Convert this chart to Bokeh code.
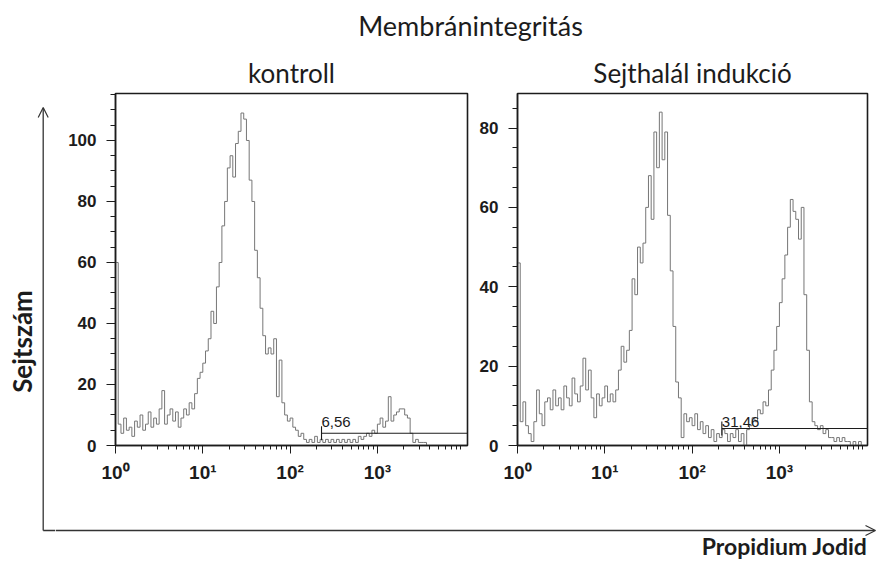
import math

from bokeh.core.properties import value
from bokeh.embed import file_html
from bokeh.layouts import column, row
from bokeh.models import Arrow, FixedTicker, OpenHead, Range1d, SingleIntervalTicker
from bokeh.plotting import figure
from bokeh.resources import INLINE

# ---------------------------------------------------------------------------
# Data: propidium iodide fluorescence histograms, 128 log channels over 4 decades
# ---------------------------------------------------------------------------
CHANNELS_PER_DECADE = 32

kontroll_counts = [
    60, 7, 4, 9, 5, 6, 3, 8, 6, 10, 5, 7, 11, 6, 9, 7,
    12, 18, 7, 10, 12, 8, 11, 6, 9, 12, 10, 14, 12, 17, 22, 24,
    27, 31, 35, 44, 40, 52, 60, 72, 80, 91, 95, 88, 99, 103, 109, 107,
    100, 87, 80, 64, 55, 45, 36, 30, 32, 30, 35, 16, 28, 14, 10, 8,
    9, 6, 5, 3, 4, 2, 1, 2, 1, 3, 1, 2, 1, 2, 1, 2,
    1, 2, 1, 2, 1, 2, 1, 2, 1, 3, 2, 3, 4, 3, 5, 4,
    7, 9, 6, 8, 16, 8, 10, 11, 12, 12, 10, 9, 4, 1, 2, 1,
    1, 1, 0, 0, 0, 0, 0, 0, 0, 0, 0, 0, 0, 0, 0, 0,
]

indukcio_counts = [
    46, 6, 11, 5, 3, 1, 6, 14, 8, 5, 11, 12, 9, 14, 10, 12,
    9, 15, 12, 10, 17, 13, 11, 15, 22, 14, 19, 12, 7, 13, 10, 12,
    15, 11, 13, 11, 14, 19, 25, 21, 24, 29, 42, 38, 50, 46, 51, 60,
    68, 57, 79, 70, 84, 72, 79, 58, 44, 30, 16, 12, 2, 8, 6, 7,
    5, 8, 4, 6, 3, 5, 2, 4, 1, 3, 2, 4, 3, 1, 3, 2,
    4, 1, 3, 0, 4, 5, 7, 6, 9, 8, 11, 10, 14, 19, 24, 30,
    36, 42, 48, 55, 62, 59, 57, 52, 60, 38, 24, 11, 6, 5, 4, 5,
    3, 4, 2, 2, 1, 2, 1, 2, 1, 1, 0, 1, 0, 1, 0, 0,
]

panel_titles = ["kontroll", "Sejthalál indukció"]
gate_starts = [229, 219]          # lower bound of the PI-positive marker
gate_levels = [4.0, 4.3]          # height the marker is drawn at
gate_percents = ["6,56", "31,46"]  # share of cells inside the marker

decade_ticks = [1, 10, 100, 1000]
decade_labels = ["10⁰", "10¹", "10²", "10³"]
minor_decade_ticks = [m * d for d in decade_ticks for m in range(2, 10)]

main_title = "Membránintegritás"
y_axis_title = "Sejtszám"
x_axis_title = "Propidium Jodid"

# ---------------------------------------------------------------------------
# Styling
# ---------------------------------------------------------------------------
LABEL_FONT = "Lato"
TICK_FONT = "Liberation Sans"
INK = "#1c1c1c"
ARROW_INK = "#333333"
HIST_COLOR = "#767676"
SIDE_W = 55
ROW_TOP = 50
ROW_HEIGHT = 440


def strip(x0, y0, width, height):
    """A blank figure whose data units equal page pixels (y grows downward)."""
    p = figure(
        width=width, height=height,
        x_range=Range1d(x0, x0 + width), y_range=Range1d(y0 + height, y0),
        x_axis_type=None, y_axis_type=None,
        output_backend="svg", toolbar_location=None, min_border=0,
    )
    p.outline_line_color = None
    p.background_fill_color = "white"
    p.border_fill_color = "white"
    return p


def panel(idx, counts, width, x_max, y_max, border_left, border_right, label_y):
    p = figure(
        width=width, height=ROW_HEIGHT,
        x_axis_type="log",
        x_range=Range1d(1, x_max), y_range=Range1d(0, y_max),
        output_backend="svg", toolbar_location=None,
        min_border_left=border_left, min_border_right=border_right,
        min_border_top=43, min_border_bottom=45,
        title=panel_titles[idx],
    )
    p.title.align = "center"
    p.title.text_font = LABEL_FONT
    p.title.text_font_size = "26px"
    p.title.text_font_style = "normal"
    p.title.text_color = INK
    p.title.standoff = 9

    p.grid.visible = False
    p.outline_line_color = INK
    p.outline_line_width = 1.6
    p.background_fill_color = "white"
    p.border_fill_color = "white"

    # x axis: decades with 2..9 minor marks
    xa = p.xaxis[0]
    xa.ticker = FixedTicker(ticks=decade_ticks, minor_ticks=minor_decade_ticks)
    xa.major_label_overrides = dict(zip(decade_ticks, decade_labels))
    xa.major_tick_out = 8
    xa.major_tick_in = 0
    xa.minor_tick_out = 4
    xa.minor_tick_in = 0
    xa.major_label_standoff = 8
    xa.major_label_text_font = TICK_FONT
    xa.major_label_text_font_style = "bold"
    xa.major_label_text_font_size = "19px"
    xa.major_label_text_color = INK

    # y axis: counts every 20, minor every 5
    ya = p.yaxis[0]
    ya.ticker = SingleIntervalTicker(interval=20, num_minor_ticks=4)
    ya.major_tick_out = 9
    ya.major_tick_in = 0
    ya.minor_tick_out = 5
    ya.minor_tick_in = 0
    ya.major_label_standoff = 10
    ya.major_label_text_font = TICK_FONT
    ya.major_label_text_font_style = "bold"
    ya.major_label_text_font_size = "17px"
    ya.major_label_text_color = INK

    for ax in (xa, ya):
        ax.axis_line_color = INK
        ax.axis_line_width = 1.4
        ax.major_tick_line_color = INK
        ax.minor_tick_line_color = INK

    # histogram as a stair-step outline
    edges = [10 ** (i / CHANNELS_PER_DECADE) for i in range(len(counts) + 1)]
    xs = [edges[0]] + edges
    ys = [0] + list(counts) + [counts[-1]]
    p.step(xs, ys, mode="after", line_color=HIST_COLOR, line_width=1.0)

    # PI-positive marker with its end tick and percentage
    g0, lvl = gate_starts[idx], gate_levels[idx]
    px_per_count = 352 / y_max
    tick_half = 7 / px_per_count
    p.line([g0, x_max], [lvl, lvl], line_color=INK, line_width=1.1)
    p.segment(x0=[g0], y0=[lvl - tick_half], x1=[g0], y1=[lvl + tick_half],
              line_color=INK, line_width=1.1)
    p.text(x=[g0], y=[label_y], text=[gate_percents[idx]],
           x_offset=0, text_baseline="bottom", text_align="left",
           text_font=value(TICK_FONT), text_font_size="15px", text_color=INK)
    return p


# ---------------------------------------------------------------------------
# Layout: a full-height side strip, then title / panels / x-axis strip
# ---------------------------------------------------------------------------
side = strip(0, 0, SIDE_W, 561)
side.add_layout(Arrow(
    x_start=42.7, y_start=530, x_end=42.7, y_end=107,
    line_color=ARROW_INK, line_width=1.3,
    end=OpenHead(size=10, line_color=ARROW_INK, line_width=1.2),
))
side.line([42.7, SIDE_W], [530, 530], line_color=ARROW_INK, line_width=1.3)
side.text(x=[21], y=[341], text=[y_axis_title], angle=math.pi / 2,
          text_align="center", text_baseline="middle",
          text_font=value(LABEL_FONT), text_font_size="26px", text_font_style="bold",
          text_color=INK)

top = strip(SIDE_W, 0, 878 - SIDE_W, ROW_TOP)
top.text(x=[470], y=[25], text=[main_title], text_align="center", text_baseline="middle",
         text_font=value(LABEL_FONT), text_font_size="27px", text_color=INK)

left = panel(0, kontroll_counts, 416, 10 ** 4.032, 115.4, 60, 4, 6.0)
right = panel(1, indukcio_counts, 407, 10 ** 4.009, 88.7, 46, 11, 4.6)

bottom = strip(SIDE_W, ROW_TOP + ROW_HEIGHT, 878 - SIDE_W, 561 - ROW_TOP - ROW_HEIGHT)
bottom.add_layout(Arrow(
    x_start=SIDE_W, y_start=530, x_end=875, y_end=530,
    line_color=ARROW_INK, line_width=1.3,
    end=OpenHead(size=10, line_color=ARROW_INK, line_width=1.2),
))
bottom.text(x=[867], y=[545], text=[x_axis_title], text_align="right", text_baseline="middle",
            text_font=value(LABEL_FONT), text_font_size="23px", text_font_style="bold",
            text_color=INK)

layout = row(side, column(top, row(left, right, spacing=0), bottom, spacing=0), spacing=0)

with open("out.html", "w") as f:
    f.write(file_html(layout, INLINE))
